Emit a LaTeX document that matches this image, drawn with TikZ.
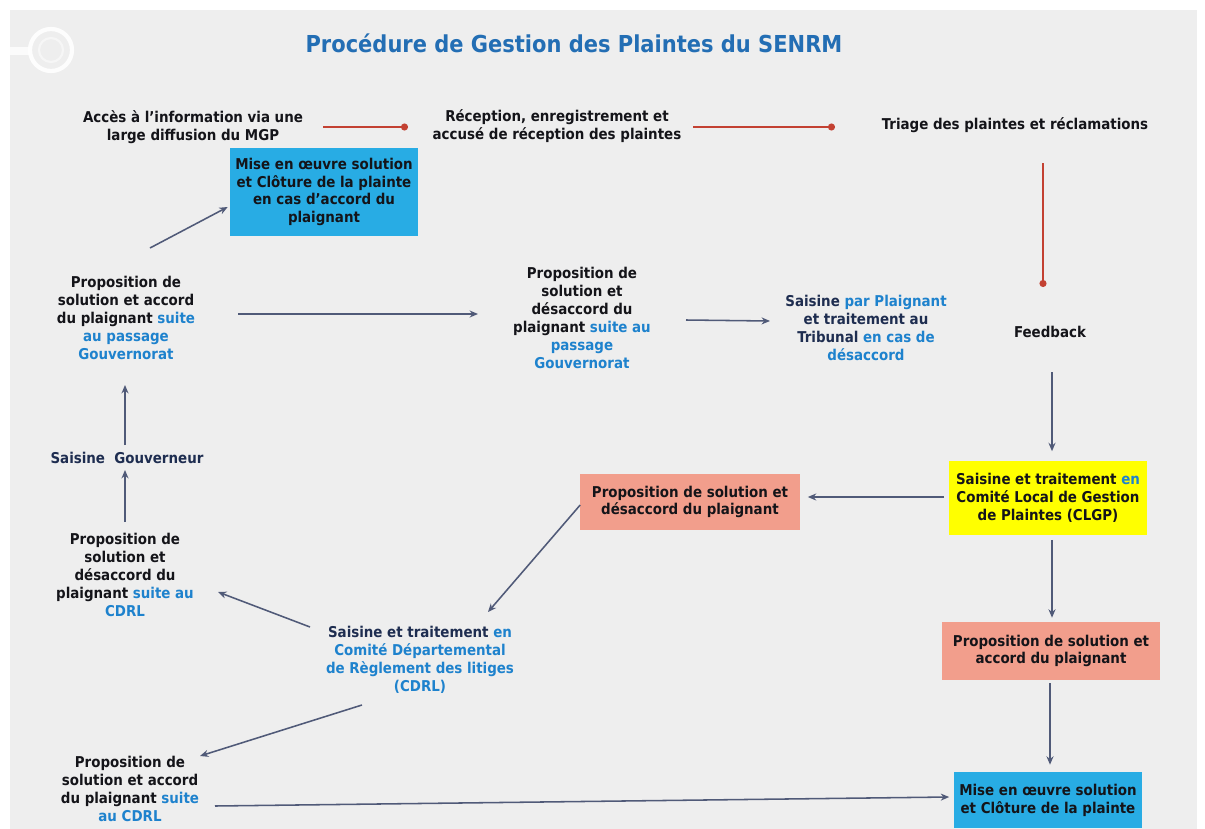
\documentclass[tikz,border=0pt]{standalone}
\usepackage{fontspec}
\setmainfont{DejaVu Sans Condensed}
\usetikzlibrary{arrows.meta}
\usepackage{xcolor}

\definecolor{fond}{RGB}{238,238,238}
\definecolor{titrebleu}{RGB}{35,110,180}
\definecolor{bleu}{RGB}{30,130,205}
\definecolor{marine}{RGB}{30,45,80}
\definecolor{noir}{RGB}{20,20,25}
\definecolor{rouge}{RGB}{195,65,50}
\definecolor{gris}{RGB}{80,90,120}
\definecolor{cyanbox}{RGB}{40,172,228}
\definecolor{saumon}{RGB}{242,158,140}
\definecolor{jaune}{RGB}{255,255,0}

\begin{document}
\begin{tikzpicture}[x=0.025cm,y=-0.025cm,
    texte/.style={font=\bfseries\fontsize{10.6}{12.7}\selectfont, align=center, text=noir, inner sep=2pt},
    boite/.style={texte, inner sep=3pt},
    titre/.style={font=\bfseries\fontsize{16.6}{19}\selectfont, text=titrebleu},
    fleche/.style={draw=gris, line width=1.1pt, -{Stealth[length=6pt,width=5pt]}},
    trait/.style={draw=rouge, line width=1pt, -{Circle[length=5pt]}}]

      % Fond
      \fill[white] (0,0) rectangle (1205,829);
      \fill[fond] (10,10) rectangle (1197,829);
      \draw[white, line width=3pt, opacity=0.9] (51,50) circle (21);
      \draw[white, line width=1.5pt, opacity=0.5] (51,50) circle (12);
      \draw[white, line width=6pt, opacity=0.8] (10,51) -- (30,51);

      % Titre
      \node[titre] (titre) at (574,43) {Procédure de Gestion des Plaintes du SENRM};

      % Ligne du haut
      \node[texte] (acces) at (193,127) {Accès à l’information via une\\large diffusion du MGP};
      \node[texte] (recep) at (557,126) {Réception, enregistrement et\\accusé de réception des plaintes};
      \node[texte] (triage) at (1015,125) {Triage des plaintes et réclamations};
      \node[texte] (feedback) at (1050,332) {Feedback};

      % Boites
      \node[boite, fill=jaune, minimum width=4.925cm, minimum height=1.825cm] (clgp) at (1048,498)
        {Saisine et traitement {\color{bleu}en}\\Comité Local de Gestion\\de Plaintes (CLGP)};
      \node[boite, fill=saumon, minimum width=5.475cm, minimum height=1.375cm] (desacc) at (690,502)
        {Proposition de solution et\\désaccord du plaignant};
      \node[boite, fill=saumon, minimum width=5.45cm, minimum height=1.45cm] (accord) at (1051,651)
        {Proposition de solution et\\accord du plaignant};
      \node[boite, fill=cyanbox, minimum width=4.675cm, minimum height=1.4cm] (cloture) at (1048,800)
        {Mise en œuvre solution\\et Clôture de la plainte};
      \node[boite, fill=cyanbox, minimum width=4.7cm, minimum height=2.175cm] (clotureG) at (324,192)
        {Mise en œuvre solution\\et Clôture de la plainte\\en cas d’accord du\\plaignant};

      % Colonne gauche
      \node[texte] (accGouv) at (126,318) {Proposition de\\solution et accord\\du plaignant {\color{bleu}suite}\\{\color{bleu}au passage}\\{\color{bleu}Gouvernorat}};
      \node[texte, text=marine] (gouverneur) at (127,458) {Saisine\ \ Gouverneur};
      \node[texte] (desCDRL) at (125,575) {Proposition de\\solution et\\désaccord du\\plaignant {\color{bleu}suite au}\\{\color{bleu}CDRL}};
      \node[texte] (accCDRL) at (130,789) {Proposition de\\solution et accord\\du plaignant {\color{bleu}suite}\\{\color{bleu}au CDRL}};

      % Centre
      \node[texte] (desGouv) at (582,318) {Proposition de\\solution et\\désaccord du\\plaignant {\color{bleu}suite au}\\{\color{bleu}passage}\\{\color{bleu}Gouvernorat}};
      \node[texte, text=marine] (tribunal) at (866,328) {Saisine {\color{bleu}par Plaignant}\\et traitement au\\Tribunal {\color{bleu}en cas de}\\{\color{bleu}désaccord}};
      \node[texte, text=bleu] (cdrl) at (420,660) {{\color{marine}Saisine et traitement} en\\Comité Départemental\\de Règlement des litiges\\(CDRL)};

      % Fil rouge
      \draw[trait] ([shift={(130,0)}]acces.center) -- ([shift={(-149,1)}]recep.center);
      \draw[trait] ([shift={(136,1)}]recep.center) -- ([shift={(-180,2)}]triage.center);
      \draw[trait] ([shift={(28,38)}]triage.center) -- ([shift={(-7,-45)}]feedback.center);

      % Fleches
      \draw[fleche] ([shift={(2,40)}]feedback.center) -- ([shift={(4,-10)}]clgp.north);
      \draw[fleche] ([shift={(-5,-1)}]clgp.west) -- ([shift={(8,-5)}]desacc.east);
      \draw[fleche] ([shift={(0,3)}]desacc.west) -- ([shift={(68,-48)}]cdrl.center);
      \draw[fleche] ([shift={(-110,-33)}]cdrl.center) -- ([shift={(93,17)}]desCDRL.center);
      \draw[fleche] ([shift={(0,-53)}]desCDRL.center) -- ([shift={(-2,12)}]gouverneur.center);
      \draw[fleche] ([shift={(-2,-13)}]gouverneur.center) -- ([shift={(-1,67)}]accGouv.center);
      \draw[fleche] ([shift={(24,-70)}]accGouv.center) -- ([shift={(-2,15)}]clotureG.west);
      \draw[fleche] ([shift={(112,-4)}]accGouv.center) -- ([shift={(-104,-4)}]desGouv.center);
      \draw[fleche] ([shift={(104,2)}]desGouv.center) -- ([shift={(-96,-7)}]tribunal.center);
      \draw[fleche] ([shift={(4,5)}]clgp.south) -- ([shift={(1,-4)}]accord.north);
      \draw[fleche] ([shift={(-1,3)}]accord.south) -- ([shift={(2,-7)}]cloture.north);
      \draw[fleche] ([shift={(-58,45)}]cdrl.center) -- ([shift={(70,-33)}]accCDRL.center);
      \draw[fleche] ([shift={(85,17)}]accCDRL.center) -- ([shift={(-5,-3)}]cloture.west);
\end{tikzpicture}
\end{document}
